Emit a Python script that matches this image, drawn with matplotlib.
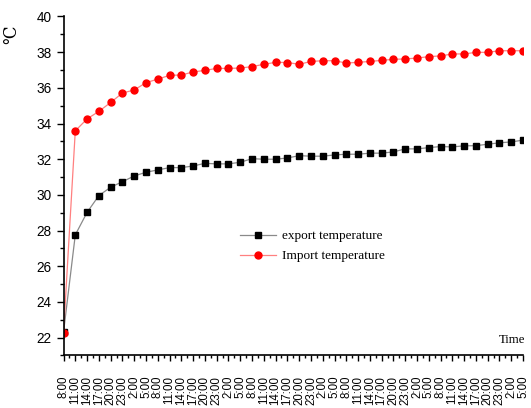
import matplotlib
matplotlib.use("Agg")
import matplotlib.pyplot as plt
from matplotlib.ticker import MultipleLocator

# time of day, every 3 hours over 5 days
hours = ["8:00", "11:00", "14:00", "17:00", "20:00", "23:00", "2:00", "5:00"]
time_labels = hours * 5

export_temp = [22.30, 27.76, 29.02, 29.96, 30.43, 30.74, 31.06, 31.27, 31.40, 31.53,
               31.53, 31.62, 31.77, 31.74, 31.74, 31.83, 32.03, 32.00, 32.00, 32.07,
               32.20, 32.17, 32.17, 32.24, 32.28, 32.28, 32.34, 32.34, 32.41, 32.58,
               32.58, 32.65, 32.71, 32.69, 32.75, 32.76, 32.84, 32.92, 32.97, 33.07]

import_temp = [22.26, 33.59, 34.26, 34.68, 35.18, 35.71, 35.88, 36.29, 36.49, 36.70,
               36.72, 36.89, 36.98, 37.09, 37.09, 37.11, 37.19, 37.32, 37.43, 37.42,
               37.32, 37.48, 37.52, 37.52, 37.39, 37.43, 37.48, 37.54, 37.60, 37.62,
               37.67, 37.75, 37.79, 37.90, 37.90, 37.99, 37.99, 38.08, 38.08, 38.08]

x = list(range(len(time_labels)))

fig = plt.figure(figsize=(5.31, 4.08), dpi=100)
ax = fig.add_axes([0.1196, 0.1287, 0.8654, 0.8309])

ax.plot(x, export_temp, color="#8a8a8a", linewidth=0.9, marker="s",
        markersize=4.3, markerfacecolor="black", markeredgecolor="black",
        label="export temperature")
ax.plot(x, import_temp, color="#ff8080", linewidth=0.9, marker="o",
        markersize=5.0, markerfacecolor="red", markeredgecolor="red",
        label="Import temperature")

ax.set_xlim(0, 39)
ax.set_ylim(21, 40)
ax.set_yticks(range(22, 41, 2))
ax.yaxis.set_minor_locator(MultipleLocator(1))
ax.set_xticks(x)
ax.set_xticklabels(time_labels, rotation=90, fontsize=8.3, family="Liberation Sans")
ax.xaxis.set_minor_locator(MultipleLocator(0.5))

for s in ["top", "right"]:
    ax.spines[s].set_visible(False)
for s in ["left", "bottom"]:
    ax.spines[s].set_linewidth(1.2)

ax.tick_params(axis="y", which="major", direction="out", length=5, width=1, pad=3.5,
               labelsize=9.8)
ax.tick_params(axis="y", which="minor", direction="out", length=3, width=1)
ax.tick_params(axis="x", which="major", direction="out", length=4.5, width=1, pad=10)
ax.tick_params(axis="x", which="minor", direction="out", length=2.5, width=1)
for lbl in ax.get_yticklabels():
    lbl.set_family("Liberation Sans")

ax.set_ylabel("℃", family=["Liberation Serif", "DejaVu Serif"], fontsize=12)
ax.yaxis.set_label_coords(-0.094, 0.945)

ax.text(1.006, 0.027, "Time", transform=ax.transAxes, ha="right", va="bottom",
        family="Liberation Serif", fontsize=9.3)

ax.legend(loc="upper left", bbox_to_anchor=(0.383, 0.37), frameon=False,
          borderpad=0, borderaxespad=0, handlelength=2.8, handletextpad=0.45,
          labelspacing=0.6, prop={"family": "Liberation Serif", "size": 9.5})

fig.savefig("out.png", dpi=100)
